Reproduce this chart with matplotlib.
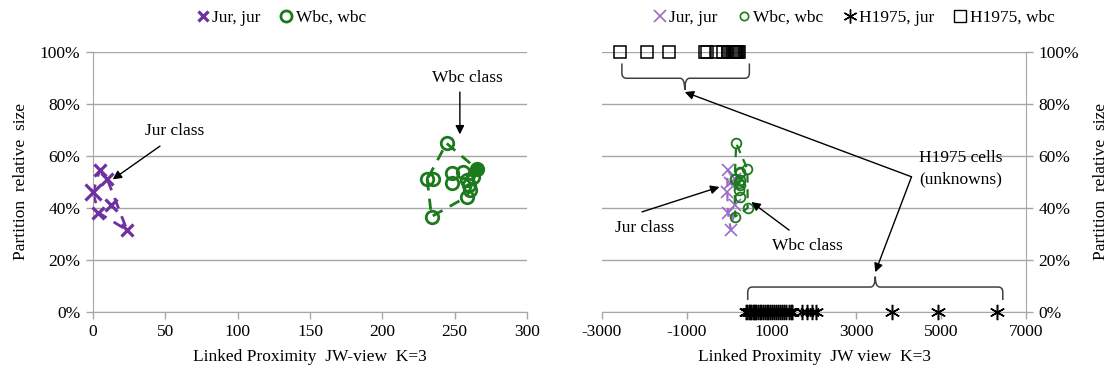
import matplotlib
matplotlib.use("Agg")
import matplotlib.pyplot as plt
from matplotlib.lines import Line2D
from matplotlib.path import Path
from matplotlib.patches import PathPatch
from matplotlib.ticker import PercentFormatter

plt.rcParams['font.family'] = ['Liberation Serif', 'DejaVu Serif']
plt.rcParams['font.size'] = 12
plt.rcParams['axes.unicode_minus'] = False

# ---- data: left panel (Linked Proximity JW-view, K=3) ----
jur_x = [0.0, 4.6, 9.9, 3.7, 12.6, 23.5]
jur_y = [0.460, 0.546, 0.510, 0.382, 0.412, 0.315]
wbc_x = [244.4, 231.0, 235.2, 234.0, 247.9, 247.9, 256.0, 258.3, 260.0, 260.5, 258.3, 262.4, 265.6]
wbc_y = [0.649, 0.510, 0.510, 0.367, 0.536, 0.495, 0.540, 0.508, 0.488, 0.469, 0.443, 0.520, 0.549]

# ---- data: right panel (Linked Proximity JW view, K=3) ----
jur2_x = [-45, -40, 140, -30, 130, 40, 30]
jur2_y = [0.460, 0.546, 0.510, 0.382, 0.412, 0.315, 0.495]
wbc2_x = [165, 130, 145, 140, 250, 240, 260, 245, 255, 240, 250, 430, 436]
wbc2_y = [0.649, 0.510, 0.510, 0.367, 0.536, 0.495, 0.540, 0.508, 0.488, 0.469, 0.443, 0.549, 0.400]
h1975_jur_x = [400, 430, 460, 490, 520, 550, 580, 610, 640, 680, 720, 760, 800,
               840, 880, 920, 960, 1000, 1050, 1100, 1150, 1200, 1250, 1300,
               1350, 1400, 1450, 1484, 1718, 1835, 1960, 2039, 3835, 4929, 6320]
h1975_jur_y = [0.0] * len(h1975_jur_x)
h1975_wbc_x = [-2571, -1931, -1423, -579, -525, -305, -157, -40, 30, 60, 90,
               110, 130, 150, 170, 190, 205, 220]
h1975_wbc_y = [1.0] * len(h1975_wbc_x)

x_ticks_left = [0, 50, 100, 150, 200, 250, 300]
x_ticks_right = [-3000, -1000, 1000, 3000, 5000, 7000]
y_ticks = [0, 0.2, 0.4, 0.6, 0.8, 1.0]

PURPLE = '#7030A0'
PURPLE_LIGHT = '#9A6CC8'
GREEN = '#1B7A1B'
GRID = '#A6A6A6'


def hull(xs, ys):
    """Convex hull (monotone chain), returned as a closed polygon."""
    pts = sorted(set(zip(xs, ys)))

    def cross(o, a, b):
        return (a[0] - o[0]) * (b[1] - o[1]) - (a[1] - o[1]) * (b[0] - o[0])

    lower, upper = [], []
    for p in pts:
        while len(lower) >= 2 and cross(lower[-2], lower[-1], p) <= 0:
            lower.pop()
        lower.append(p)
    for p in reversed(pts):
        while len(upper) >= 2 and cross(upper[-2], upper[-1], p) <= 0:
            upper.pop()
        upper.append(p)
    poly = lower[:-1] + upper[:-1]
    poly.append(poly[0])
    return [p[0] for p in poly], [p[1] for p in poly]


def hull_in_display(ax, xs, ys):
    # hull computed in screen space so near-vertical clusters keep their shape
    tr = ax.transData
    disp = tr.transform(list(zip(xs, ys)))
    hx, hy = hull(disp[:, 0], disp[:, 1])
    back = tr.inverted().transform(list(zip(hx, hy)))
    return back[:, 0], back[:, 1]


def brace(ax, x0, x1, xm, y, end_dy, tip_dy, rx, ry):
    """Horizontal curly brace: ends bend by end_dy, centre point by tip_dy."""
    s = 1 if end_dy > 0 else -1
    verts = [(x0, y + end_dy), (x0, y + s * ry), (x0, y), (x0 + rx, y),
             (xm - rx, y), (xm, y), (xm, y + tip_dy),
             (xm, y), (xm + rx, y),
             (x1 - rx, y), (x1, y), (x1, y + s * ry), (x1, y + end_dy)]
    codes = [Path.MOVETO, Path.LINETO, Path.CURVE3, Path.CURVE3,
             Path.LINETO, Path.CURVE3, Path.CURVE3,
             Path.CURVE3, Path.CURVE3,
             Path.LINETO, Path.CURVE3, Path.CURVE3, Path.LINETO]
    ax.add_patch(PathPatch(Path(verts, codes), fill=False, lw=1.1,
                           ec='#404040', clip_on=False))


def style_axis(ax, side):
    ax.set_ylim(0, 1)
    ax.set_yticks(y_ticks)
    ax.yaxis.set_major_formatter(PercentFormatter(1.0, decimals=0))
    ax.grid(axis='y', color=GRID, lw=1.0)
    ax.set_axisbelow(True)
    for sp in ax.spines.values():
        sp.set_visible(False)
    ax.spines['bottom'].set_visible(True)
    ax.spines['bottom'].set_color(GRID)
    ax.spines[side].set_visible(True)
    ax.spines[side].set_color(GRID)
    ax.tick_params(direction='out', length=5, color=GRID, labelsize=12.5,
                   labelcolor='black', width=1.0, pad=4)
    if side == 'right':
        ax.yaxis.tick_right()
        ax.yaxis.set_label_position('right')


fig = plt.figure(figsize=(11.16, 3.73), dpi=100)
W, H = 1116, 373
ax1 = fig.add_axes([93 / W, 61 / H, (527 - 93) / W, 260 / H])
ax2 = fig.add_axes([602 / W, 61 / H, (1026 - 602) / W, 260 / H])

# ---------------- left panel ----------------
style_axis(ax1, 'left')
ax1.set_xlim(0, 300)
ax1.set_xticks(x_ticks_left)

hx, hy = hull_in_display(ax1, jur_x, jur_y)
ax1.plot(hx, hy, color=PURPLE, lw=2.0, ls=(0, (4, 3)), zorder=2, clip_on=False)
hx, hy = hull_in_display(ax1, wbc_x, wbc_y)
ax1.plot(hx, hy, color=GREEN, lw=2.0, ls=(0, (4, 3)), zorder=2, clip_on=False)

ax1.plot(jur_x[1:], jur_y[1:], ls='none', marker='x', ms=8, mew=2.3,
         color=PURPLE, zorder=3, clip_on=False)
ax1.plot(jur_x[:1], jur_y[:1], ls='none', marker='x', ms=12, mew=2.3,
         color=PURPLE, zorder=3, clip_on=False)
ax1.plot(wbc_x[:-1], wbc_y[:-1], ls='none', marker='o', ms=9, mew=2.0,
         mfc='none', mec=GREEN, zorder=3)
ax1.plot(wbc_x[-1:], wbc_y[-1:], ls='none', marker='o', ms=9, mew=2.0,
         mfc=GREEN, mec=GREEN, zorder=3)

ax1.set_xlabel('Linked Proximity  JW-view  K=3', fontsize=12.5, labelpad=6)
ax1.set_ylabel('Partition  relative  size', fontsize=12.5, labelpad=8)

arrow = dict(arrowstyle='-|>', color='black', lw=1.0, mutation_scale=13,
             shrinkA=0, shrinkB=0)
ax1.text(56.7, 0.696, 'Jur class', ha='center', va='center', fontsize=12.5)
ax1.annotate('', xy=(13.6, 0.51), xytext=(46.3, 0.638), arrowprops=arrow)
ax1.text(259, 0.90, 'Wbc class', ha='center', va='center', fontsize=12.5)
ax1.annotate('', xy=(253.6, 0.683), xytext=(253.6, 0.846), arrowprops=arrow)

# ---------------- right panel ----------------
style_axis(ax2, 'right')
ax2.set_xlim(-3000, 7000)
ax2.set_xticks(x_ticks_right)

hx, hy = hull_in_display(ax2, jur2_x, jur2_y)
ax2.plot(hx, hy, color=PURPLE_LIGHT, lw=1.6, ls=(0, (4, 3)), zorder=2)
hx, hy = hull_in_display(ax2, wbc2_x, wbc2_y)
ax2.plot(hx, hy, color=GREEN, lw=1.6, ls=(0, (4, 3)), zorder=2)

ax2.plot(jur2_x, jur2_y, ls='none', marker='x', ms=8, mew=1.2,
         color=PURPLE_LIGHT, zorder=3)
ax2.plot(wbc2_x, wbc2_y, ls='none', marker='o', ms=7, mew=1.3,
         mfc='none', mec=GREEN, zorder=3)
ax2.plot(h1975_jur_x, h1975_jur_y, ls='none', marker=(6, 2, 0), ms=11,
         mew=1.1, color='black', zorder=4, clip_on=False)
ax2.plot(h1975_wbc_x, h1975_wbc_y, ls='none', marker='s', ms=8, mew=1.1,
         mfc='none', mec='black', zorder=4, clip_on=False)

ax2.set_xlabel('Linked Proximity  JW view  K=3', fontsize=12.5, labelpad=6)
ax2.set_ylabel('Partition  relative  size', fontsize=12.5, labelpad=10)

# braces grouping the unknown cells
brace(ax2, -2531, 476, -1048, 0.899, 0.057, -0.045, 110, 0.02)
brace(ax2, 437, 6453, 3445, 0.096, -0.05, 0.04, 110, 0.02)

ax2.text(-1985, 0.323, 'Jur class', ha='center', va='center', fontsize=12.5)
ax2.annotate('', xy=(-230, 0.481), xytext=(-2056, 0.385), arrowprops=arrow)
ax2.text(1835, 0.254, 'Wbc class', ha='center', va='center', fontsize=12.5)
ax2.annotate('', xy=(523, 0.423), xytext=(1413, 0.315), arrowprops=arrow)
ax2.text(5470, 0.55, 'H1975 cells\n(unknowns)', ha='center', va='center',
         fontsize=12.5, linespacing=1.45)
ax2.annotate('', xy=(-1048, 0.846), xytext=(4300, 0.52), arrowprops=arrow)
ax2.annotate('', xy=(3445, 0.153), xytext=(4300, 0.52), arrowprops=arrow)

# ---------------- legends ----------------
leg_kw = dict(frameon=False, handletextpad=0.05, columnspacing=1.0,
              handlelength=1.0, fontsize=12.5, loc='center')
h_left = [Line2D([], [], ls='none', marker='x', ms=7, mew=2.3, color=PURPLE),
          Line2D([], [], ls='none', marker='o', ms=8, mew=2.0, mfc='none',
                 mec=GREEN)]
fig.legend(h_left, ['Jur, jur', 'Wbc, wbc'], ncol=2,
           bbox_to_anchor=(280 / W, 1 - 18 / H), **leg_kw)

h_right = [Line2D([], [], ls='none', marker='x', ms=8, mew=1.2,
                  color=PURPLE_LIGHT),
           Line2D([], [], ls='none', marker='o', ms=6, mew=1.2, mfc='none',
                  mec=GREEN),
           Line2D([], [], ls='none', marker=(6, 2, 0), ms=10, mew=1.0,
                  color='black'),
           Line2D([], [], ls='none', marker='s', ms=8, mew=1.0, mfc='none',
                  mec='black')]
fig.legend(h_right, ['Jur, jur', 'Wbc, wbc', 'H1975, jur', 'H1975, wbc'],
           ncol=4, bbox_to_anchor=(853 / W, 1 - 18 / H), **leg_kw)

fig.savefig('out.png', dpi=100, facecolor='white')
